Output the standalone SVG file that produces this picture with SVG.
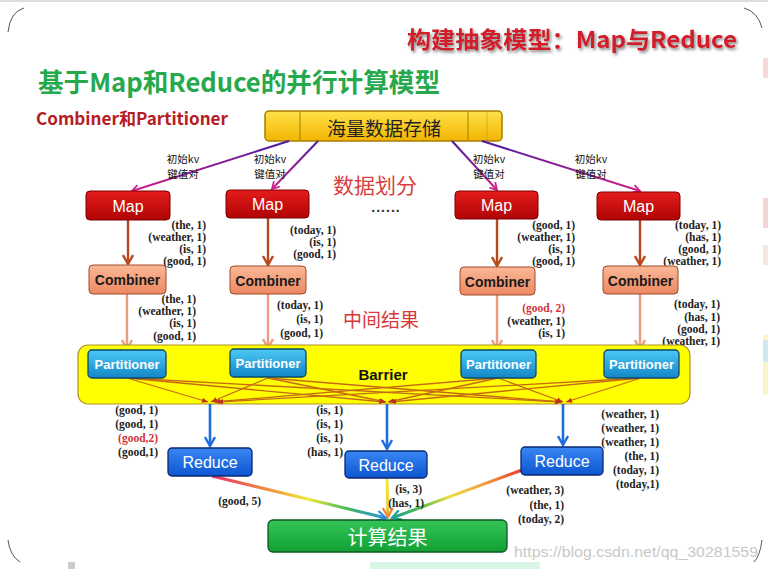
<svg xmlns="http://www.w3.org/2000/svg" width="768" height="569" viewBox="0 0 768 569">
<defs>
<style>
.lbl{font-family:"Liberation Serif","Times New Roman",serif;font-weight:bold;font-size:11.5px;fill:#222;text-anchor:end}
.red{fill:#d2343a}
.cjk{font-family:"Noto Sans CJK SC","Liberation Sans",sans-serif}
.kv{font-family:"Noto Sans CJK SC","Liberation Sans",sans-serif;font-size:10.5px;fill:#111;text-anchor:middle}
.bt{font-family:"Liberation Sans",Arial,sans-serif;text-anchor:middle;dominant-baseline:central}
.bl{stroke:#c86a14;stroke-width:1.3;fill:none}
</style>
<linearGradient id="gY" x1="0" y1="0" x2="0" y2="1"><stop offset="0" stop-color="#ffe24a"/><stop offset="1" stop-color="#f2b400"/></linearGradient>
<linearGradient id="gM" x1="0" y1="0" x2="0" y2="1"><stop offset="0" stop-color="#e41c1c"/><stop offset="1" stop-color="#b00404"/></linearGradient>
<linearGradient id="gC" x1="0" y1="0" x2="0" y2="1"><stop offset="0" stop-color="#fbb896"/><stop offset="1" stop-color="#ec8862"/></linearGradient>
<linearGradient id="gP" x1="0" y1="0" x2="0" y2="1"><stop offset="0" stop-color="#4cc8f4"/><stop offset="1" stop-color="#1486c8"/></linearGradient>
<linearGradient id="gR" x1="0" y1="0" x2="0" y2="1"><stop offset="0" stop-color="#3a86f4"/><stop offset="1" stop-color="#0c56d0"/></linearGradient>
<linearGradient id="gG" x1="0" y1="0" x2="0" y2="1"><stop offset="0" stop-color="#34c458"/><stop offset="1" stop-color="#12a034"/></linearGradient>
<linearGradient id="a1" gradientUnits="userSpaceOnUse" x1="289" y1="141" x2="132" y2="191"><stop offset="0" stop-color="#4b1c9c"/><stop offset="1" stop-color="#d0208c"/></linearGradient>
<linearGradient id="a2" gradientUnits="userSpaceOnUse" x1="318" y1="141" x2="272" y2="189"><stop offset="0" stop-color="#4b1c9c"/><stop offset="1" stop-color="#d0208c"/></linearGradient>
<linearGradient id="a3" gradientUnits="userSpaceOnUse" x1="452" y1="141" x2="497" y2="190"><stop offset="0" stop-color="#4b1c9c"/><stop offset="1" stop-color="#d0208c"/></linearGradient>
<linearGradient id="a4" gradientUnits="userSpaceOnUse" x1="482" y1="141" x2="640" y2="191"><stop offset="0" stop-color="#4b1c9c"/><stop offset="1" stop-color="#d0208c"/></linearGradient>
<linearGradient id="r1" gradientUnits="userSpaceOnUse" x1="212" y1="476" x2="386" y2="518"><stop offset="0" stop-color="#e8306e"/><stop offset="0.3" stop-color="#f08840"/><stop offset="0.55" stop-color="#f4e83a"/><stop offset="0.78" stop-color="#40b860"/><stop offset="1" stop-color="#2a8ee0"/></linearGradient>
<linearGradient id="r2" gradientUnits="userSpaceOnUse" x1="387" y1="478" x2="388" y2="518"><stop offset="0" stop-color="#f2e840"/><stop offset="0.7" stop-color="#f4d030"/><stop offset="1" stop-color="#f08a30"/></linearGradient>
<linearGradient id="r3" gradientUnits="userSpaceOnUse" x1="522" y1="470" x2="392" y2="518"><stop offset="0" stop-color="#e83a2a"/><stop offset="0.3" stop-color="#f4a040"/><stop offset="0.55" stop-color="#f0e040"/><stop offset="0.8" stop-color="#48b850"/><stop offset="1" stop-color="#20a090"/></linearGradient>
<marker id="mMag" viewBox="0 0 10 10" refX="8" refY="5" markerWidth="10" markerHeight="10" markerUnits="userSpaceOnUse" orient="auto"><path d="M1,1 L8,5 L1,9" fill="none" stroke="#d0208c" stroke-width="1.8"/></marker>
<marker id="mBr" viewBox="0 0 12 12" refX="10" refY="6" markerWidth="12" markerHeight="12" markerUnits="userSpaceOnUse" orient="auto"><path d="M1,1 L10,6 L1,11" fill="none" stroke="#b8481c" stroke-width="2.4"/></marker>
<marker id="mSa" viewBox="0 0 12 12" refX="10" refY="6" markerWidth="12" markerHeight="12" markerUnits="userSpaceOnUse" orient="auto"><path d="M1,1 L10,6 L1,11" fill="none" stroke="#ee9a7c" stroke-width="2.4"/></marker>
<marker id="mBl" viewBox="0 0 12 12" refX="10" refY="6" markerWidth="12" markerHeight="12" markerUnits="userSpaceOnUse" orient="auto"><path d="M1,1 L10,6 L1,11" fill="none" stroke="#1e6ee0" stroke-width="2.4"/></marker>
<marker id="mRd" viewBox="0 0 8 8" refX="7" refY="4" markerWidth="7" markerHeight="7" markerUnits="userSpaceOnUse" orient="auto"><path d="M0,1 L7,4 L0,7 z" fill="#c0301a"/></marker>
<marker id="mBlu2" viewBox="0 0 12 12" refX="10" refY="6" markerWidth="12" markerHeight="12" markerUnits="userSpaceOnUse" orient="auto"><path d="M1,1 L10,6 L1,11" fill="none" stroke="#2a8ee0" stroke-width="2.2"/></marker>
<marker id="mOr" viewBox="0 0 12 12" refX="10" refY="6" markerWidth="12" markerHeight="12" markerUnits="userSpaceOnUse" orient="auto"><path d="M1,1 L10,6 L1,11" fill="none" stroke="#f08a30" stroke-width="2.2"/></marker>
<marker id="mTl" viewBox="0 0 12 12" refX="10" refY="6" markerWidth="12" markerHeight="12" markerUnits="userSpaceOnUse" orient="auto"><path d="M1,1 L10,6 L1,11" fill="none" stroke="#20a090" stroke-width="2.2"/></marker>
<filter id="sh" x="-5%" y="-30%" width="110%" height="160%"><feDropShadow dx="1.5" dy="2" stdDeviation="1.5" flood-color="#777" flood-opacity="0.9"/></filter>
</defs>
<rect width="768" height="569" fill="#fff"/>
<!-- frame artifacts -->
<line x1="0" y1="1" x2="768" y2="1" stroke="#bbb" stroke-width="1"/>
<path d="M8,32 Q10,12 24,8" fill="none" stroke="#555" stroke-width="1"/>
<path d="M744,8 Q758,12 762,28" fill="none" stroke="#555" stroke-width="1"/>
<path d="M8,540 Q10,556 20,562" fill="none" stroke="#555" stroke-width="1"/>
<path d="M762,540 Q760,556 754,562" fill="none" stroke="#555" stroke-width="1"/>
<rect x="68" y="562" width="7" height="7" fill="#ccc"/>
<rect x="370" y="562" width="170" height="7" fill="#d8f4e2"/>
<rect x="763" y="58" width="5" height="20" fill="#f6dada"/>
<rect x="763" y="198" width="5" height="30" fill="#f4d4d4"/>
<rect x="763" y="245" width="5" height="20" fill="#f6e6e0"/>
<rect x="763" y="335" width="5" height="60" fill="#fbf6c8"/>
<rect x="763" y="340" width="5" height="22" fill="#cfe8f4"/>

<!-- titles -->
<g id="title">
<text x="407" y="48" class="cjk" font-size="23" font-weight="bold" fill="#d21c2a" textLength="330" lengthAdjust="spacingAndGlyphs" filter="url(#sh)">构建抽象模型：Map与Reduce</text>
</g>
<g id="subtitle"><text x="38" y="92" class="cjk" font-size="26" font-weight="bold" fill="#26a84c" textLength="402" lengthAdjust="spacingAndGlyphs">基于Map和Reduce的并行计算模型</text></g>
<g id="subtitle2"><text x="36" y="125" class="cjk" font-size="17" font-weight="bold" fill="#b51c24" textLength="192" lengthAdjust="spacingAndGlyphs">Combiner和Partitioner</text></g>

<!-- storage -->
<g id="storage">
<rect x="265" y="111" width="237" height="30" rx="4" fill="url(#gY)" stroke="#a87c00" stroke-width="1.5"/>
<line x1="300" y1="112" x2="300" y2="140" stroke="#a87c00"/>
<line x1="468" y1="112" x2="468" y2="140" stroke="#a87c00"/>
<line x1="487" y1="112" x2="487" y2="140" stroke="#c49a10" stroke-width="0.6"/>
<text x="384" y="127" class="cjk" font-size="19" fill="#222" text-anchor="middle" dominant-baseline="central">海量数据存储</text>
</g>

<!-- connectors -->
<g id="connectors">
<line x1="289" y1="141" x2="132" y2="191" stroke="url(#a1)" stroke-width="2" marker-end="url(#mMag)"/>
<line x1="318" y1="141" x2="272" y2="189" stroke="url(#a2)" stroke-width="2" marker-end="url(#mMag)"/>
<line x1="452" y1="141" x2="497" y2="190" stroke="url(#a3)" stroke-width="2" marker-end="url(#mMag)"/>
<line x1="482" y1="141" x2="640" y2="191" stroke="url(#a4)" stroke-width="2" marker-end="url(#mMag)"/>

<line x1="128" y1="220" x2="128" y2="264" stroke="#b8481c" stroke-width="2.4" marker-end="url(#mBr)"/>
<line x1="268" y1="218" x2="268" y2="265" stroke="#b8481c" stroke-width="2.4" marker-end="url(#mBr)"/>
<line x1="497" y1="219" x2="497" y2="266" stroke="#b8481c" stroke-width="2.4" marker-end="url(#mBr)"/>
<line x1="640" y1="220" x2="640" y2="265" stroke="#b8481c" stroke-width="2.4" marker-end="url(#mBr)"/>

<line x1="127" y1="294" x2="127" y2="349" stroke="#ee9a7c" stroke-width="2.4" marker-end="url(#mSa)"/>
<line x1="268" y1="294" x2="268" y2="348" stroke="#ee9a7c" stroke-width="2.4" marker-end="url(#mSa)"/>
<line x1="497" y1="295" x2="497" y2="349" stroke="#ee9a7c" stroke-width="2.4" marker-end="url(#mSa)"/>
<line x1="640" y1="294" x2="640" y2="349" stroke="#ee9a7c" stroke-width="2.4" marker-end="url(#mSa)"/>
</g>

<!-- Map nodes -->
<g id="map1"><rect x="86" y="191" width="84" height="29" rx="4" fill="url(#gM)" stroke="#7a0000"/><text x="128" y="206" class="bt" font-size="16" fill="#fff">Map</text></g>
<g id="map2"><rect x="226" y="190" width="83" height="28" rx="4" fill="url(#gM)" stroke="#7a0000"/><text x="267.500" y="204.500" class="bt" font-size="16" fill="#fff">Map</text></g>
<g id="map3"><rect x="455" y="191" width="83" height="28" rx="4" fill="url(#gM)" stroke="#7a0000"/><text x="496.500" y="205.500" class="bt" font-size="16" fill="#fff">Map</text></g>
<g id="map4"><rect x="597" y="192" width="83" height="28" rx="4" fill="url(#gM)" stroke="#7a0000"/><text x="638.500" y="206.500" class="bt" font-size="16" fill="#fff">Map</text></g>

<!-- kv labels -->
<g id="kvlabels">
<text x="183" y="163" class="kv">初始kv</text><text x="183" y="178" class="kv">键值对</text>
<text x="270" y="163" class="kv">初始kv</text><text x="270" y="178" class="kv">键值对</text>
<text x="489" y="163" class="kv">初始kv</text><text x="489" y="178" class="kv">键值对</text>
<text x="591" y="163" class="kv">初始kv</text><text x="591" y="178" class="kv">键值对</text>
</g>
<g id="notes">
<text x="333" y="193" class="cjk" font-size="21" fill="#d84040">数据划分</text>
<text x="386" y="212" font-family="Liberation Sans,sans-serif" font-size="14" font-weight="bold" fill="#333" text-anchor="middle" letter-spacing="1">......</text>
<text x="343" y="327" class="cjk" font-size="19" fill="#d83838">中间结果</text>
</g>

<!-- Map output labels -->
<g id="mapout">
<text class="lbl" x="206" y="229">(the, 1)</text><text class="lbl" x="206" y="241">(weather, 1)</text><text class="lbl" x="206" y="253">(is, 1)</text><text class="lbl" x="206" y="265">(good, 1)</text>
<text class="lbl" x="336" y="234">(today, 1)</text><text class="lbl" x="336" y="246">(is, 1)</text><text class="lbl" x="336" y="258">(good, 1)</text>
<text class="lbl" x="575" y="229">(good, 1)</text><text class="lbl" x="575" y="241">(weather, 1)</text><text class="lbl" x="575" y="253">(is, 1)</text><text class="lbl" x="575" y="265">(good, 1)</text>
<text class="lbl" x="721" y="229">(today, 1)</text><text class="lbl" x="721" y="241">(has, 1)</text><text class="lbl" x="721" y="253">(good, 1)</text><text class="lbl" x="721" y="265">(weather, 1)</text>
</g>

<!-- Combiners -->
<g id="comb1"><rect x="89" y="265" width="77" height="29" rx="4" fill="url(#gC)" stroke="#a04a2a"/><text x="127.500" y="280" class="bt" font-size="14" font-weight="bold" fill="#1a1a1a">Combiner</text></g>
<g id="comb2"><rect x="230" y="266" width="76" height="28" rx="4" fill="url(#gC)" stroke="#a04a2a"/><text x="268" y="280.500" class="bt" font-size="14" font-weight="bold" fill="#1a1a1a">Combiner</text></g>
<g id="comb3"><rect x="460" y="267" width="75" height="28" rx="4" fill="url(#gC)" stroke="#a04a2a"/><text x="497.500" y="281.500" class="bt" font-size="14" font-weight="bold" fill="#1a1a1a">Combiner</text></g>
<g id="comb4"><rect x="603" y="266" width="75" height="28" rx="4" fill="url(#gC)" stroke="#a04a2a"/><text x="640.500" y="280.500" class="bt" font-size="14" font-weight="bold" fill="#1a1a1a">Combiner</text></g>

<!-- Combiner output labels -->
<g id="combout">
<text class="lbl" x="196" y="303">(the, 1)</text><text class="lbl" x="196" y="315">(weather, 1)</text><text class="lbl" x="196" y="327">(is, 1)</text><text class="lbl" x="196" y="340">(good, 1)</text>
<text class="lbl" x="323" y="309">(today, 1)</text><text class="lbl" x="323" y="323">(is, 1)</text><text class="lbl" x="323" y="337">(good, 1)</text>
<text class="lbl red" x="565" y="312">(good, 2)</text><text class="lbl" x="565" y="325">(weather, 1)</text><text class="lbl" x="565" y="337">(is, 1)</text>
<text class="lbl" x="720" y="308">(today, 1)</text><text class="lbl" x="720" y="321">(has, 1)</text><text class="lbl" x="720" y="333">(good, 1)</text><text class="lbl" x="720" y="345">(weather, 1)</text>
</g>

<!-- Barrier -->
<g id="barrier">
<rect x="78" y="345" width="612" height="59" rx="10" fill="#ffff00" stroke="#b0902a" stroke-width="1.2"/>
<text x="383" y="374" class="bt" font-size="15" font-weight="bold" fill="#111">Barrier</text>
<g class="bl">
<line x1="127" y1="378" x2="208" y2="402" marker-end="url(#mRd)"/>
<line x1="127" y1="378" x2="385" y2="402" marker-end="url(#mRd)"/>
<line x1="127" y1="378" x2="561" y2="402" marker-end="url(#mRd)"/>
<line x1="268" y1="378" x2="211" y2="402" marker-end="url(#mRd)"/>
<line x1="268" y1="378" x2="386" y2="402" marker-end="url(#mRd)"/>
<line x1="268" y1="378" x2="562" y2="402" marker-end="url(#mRd)"/>
<line x1="498" y1="378" x2="214" y2="402" marker-end="url(#mRd)"/>
<line x1="498" y1="378" x2="388" y2="402" marker-end="url(#mRd)"/>
<line x1="498" y1="378" x2="563" y2="402" marker-end="url(#mRd)"/>
<line x1="641" y1="378" x2="217" y2="402" marker-end="url(#mRd)"/>
<line x1="641" y1="378" x2="390" y2="402" marker-end="url(#mRd)"/>
<line x1="641" y1="378" x2="566" y2="402" marker-end="url(#mRd)"/>
</g>
</g>

<!-- Partitioners -->
<g id="part1"><rect x="88" y="350" width="78" height="28" rx="4" fill="url(#gP)" stroke="#0a4a68" stroke-width="1.3"/><text x="127" y="364.500" class="bt" font-size="13" font-weight="bold" fill="#fff">Partitioner</text></g>
<g id="part2"><rect x="230" y="349" width="76" height="28" rx="4" fill="url(#gP)" stroke="#0a4a68" stroke-width="1.3"/><text x="268" y="363.500" class="bt" font-size="13" font-weight="bold" fill="#fff">Partitioner</text></g>
<g id="part3"><rect x="461" y="350" width="75" height="28" rx="4" fill="url(#gP)" stroke="#0a4a68" stroke-width="1.3"/><text x="498.500" y="364.500" class="bt" font-size="13" font-weight="bold" fill="#fff">Partitioner</text></g>
<g id="part4"><rect x="604" y="350" width="75" height="28" rx="4" fill="url(#gP)" stroke="#0a4a68" stroke-width="1.3"/><text x="641.500" y="364.500" class="bt" font-size="13" font-weight="bold" fill="#fff">Partitioner</text></g>

<!-- blue arrows -->
<g id="connectors2">
<line x1="210" y1="404" x2="210" y2="446" stroke="#1e6ee0" stroke-width="2.6" marker-end="url(#mBl)"/>
<line x1="387" y1="404" x2="387" y2="449" stroke="#1e6ee0" stroke-width="2.6" marker-end="url(#mBl)"/>
<line x1="563" y1="404" x2="563" y2="445" stroke="#1e6ee0" stroke-width="2.6" marker-end="url(#mBl)"/>
<line x1="212" y1="476" x2="386" y2="518" stroke="url(#r1)" stroke-width="3" marker-end="url(#mBlu2)"/>
<line x1="387" y1="478" x2="388" y2="517" stroke="url(#r2)" stroke-width="3" marker-end="url(#mOr)"/>
<line x1="522" y1="470" x2="392" y2="518" stroke="url(#r3)" stroke-width="3" marker-end="url(#mTl)"/>
</g>

<!-- reduce input labels -->
<g id="redin">
<text class="lbl" x="158" y="414">(good, 1)</text><text class="lbl" x="158" y="428">(good, 1)</text><text class="lbl red" x="158" y="442">(good,2)</text><text class="lbl" x="158" y="456">(good,1)</text>
<text class="lbl" x="343" y="414">(is, 1)</text><text class="lbl" x="343" y="428">(is, 1)</text><text class="lbl" x="343" y="442">(is, 1)</text><text class="lbl" x="343" y="456">(has, 1)</text>
<text class="lbl" x="659" y="418">(weather, 1)</text><text class="lbl" x="659" y="432">(weather, 1)</text><text class="lbl" x="659" y="446">(weather, 1)</text><text class="lbl" x="659" y="460">(the, 1)</text><text class="lbl" x="659" y="474">(today, 1)</text><text class="lbl" x="659" y="488">(today,1)</text>
</g>

<!-- Reduce nodes -->
<g id="reduce1"><rect x="168" y="448" width="84" height="28" rx="4" fill="url(#gR)" stroke="#0a2870" stroke-width="1.3"/><text x="210" y="462.500" class="bt" font-size="16" fill="#fff">Reduce</text></g>
<g id="reduce2"><rect x="345" y="451" width="82" height="27" rx="4" fill="url(#gR)" stroke="#0a2870" stroke-width="1.3"/><text x="386" y="465" class="bt" font-size="16" fill="#fff">Reduce</text></g>
<g id="reduce3"><rect x="521" y="447" width="82" height="28" rx="4" fill="url(#gR)" stroke="#0a2870" stroke-width="1.3"/><text x="562" y="461.500" class="bt" font-size="16" fill="#fff">Reduce</text></g>

<!-- reduce output labels -->
<g id="redout">
<text class="lbl" x="261" y="505">(good, 5)</text>
<text class="lbl" x="422" y="493">(is, 3)</text><text class="lbl" x="424" y="507">(has, 1)</text>
<text class="lbl" x="564" y="494">(weather, 3)</text><text class="lbl" x="564" y="509">(the, 1)</text><text class="lbl" x="564" y="523">(today, 2)</text>
</g>

<!-- Result -->
<g id="result"><rect x="268" y="520" width="239" height="32" rx="5" fill="url(#gG)" stroke="#0a5a1e" stroke-width="1.3"/><text x="387.500" y="536" class="cjk" font-size="20" fill="#fff" text-anchor="middle" dominant-baseline="central">计算结果</text></g>

<text x="514" y="557" font-family="Liberation Sans,Arial,sans-serif" font-size="15" fill="#c8c8c8" textLength="244" lengthAdjust="spacingAndGlyphs">https://blog.csdn.net/qq_30281559</text>
</svg>
